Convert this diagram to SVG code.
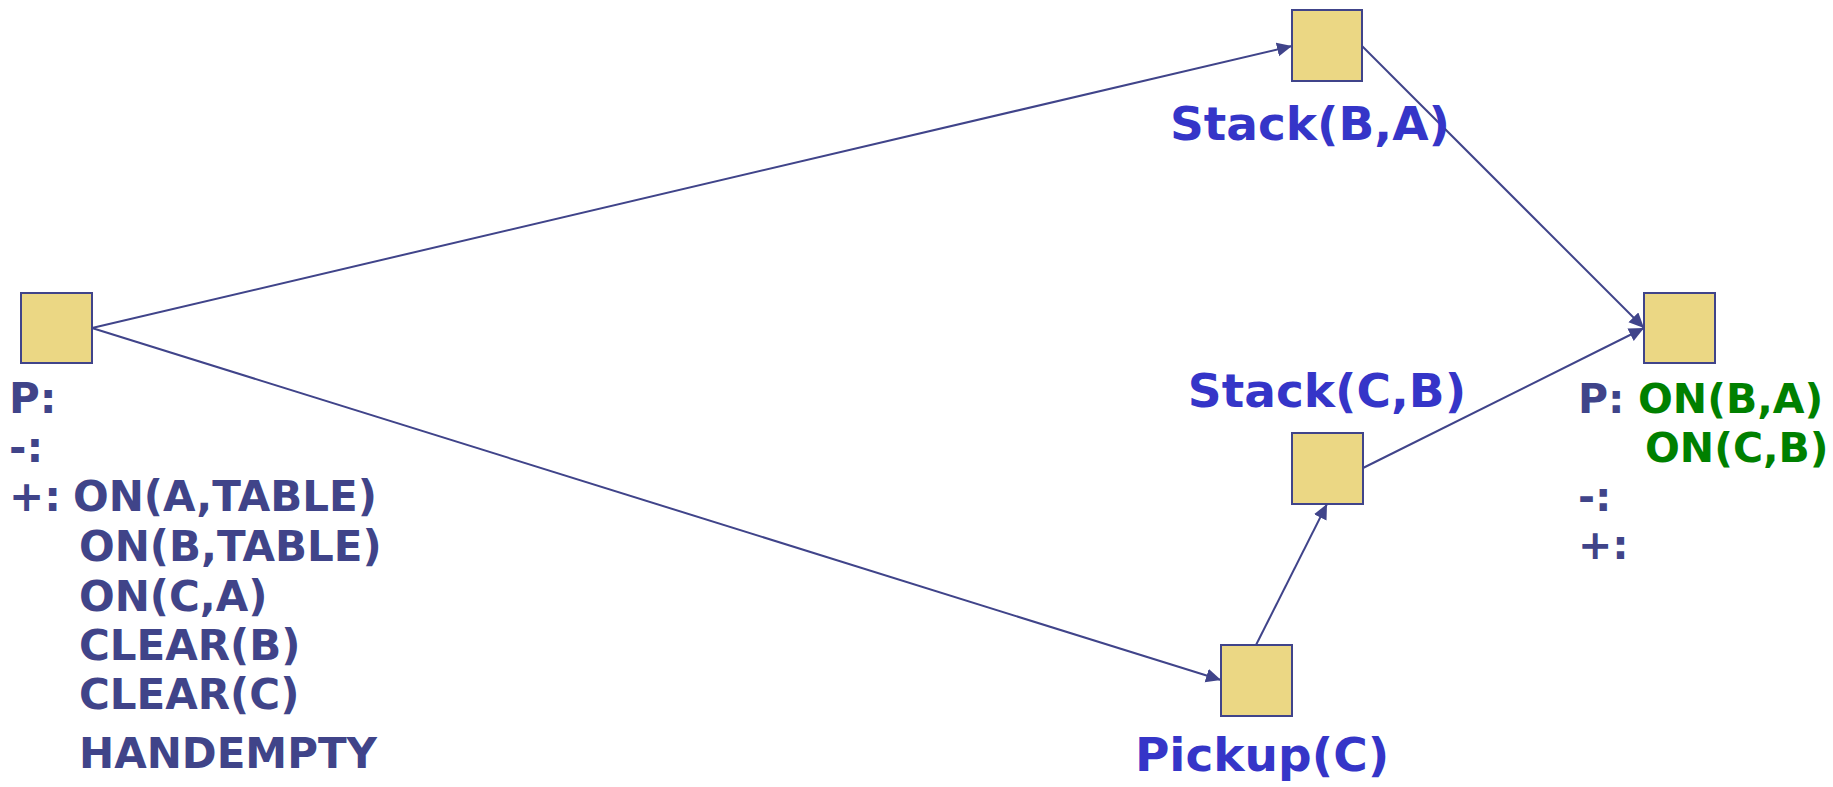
<svg xmlns="http://www.w3.org/2000/svg" width="1833" height="787" viewBox="0 0 1833 787">
<style>
.node rect{fill:#ebd784;stroke:#40448a;stroke-width:2}
.lbl{font-family:"DejaVu Sans",sans-serif;font-weight:bold;font-size:47px;fill:#3535c8;text-anchor:middle}
.cond{font-family:"DejaVu Sans",sans-serif;font-weight:bold;font-size:42px;fill:#404489}
.r{font-size:41px}
.green{fill:#008000}
.edges line{stroke:#40448a;stroke-width:2;marker-end:url(#arr)}
</style>
<defs>
<marker id="arr" markerUnits="userSpaceOnUse" markerWidth="17" markerHeight="15" refX="15" refY="7" orient="auto">
<path d="M0,0 L15,7 L0,14 z" fill="#40448a"/>
</marker>
</defs>
<rect width="1833" height="787" fill="#ffffff"/>
<g id="edges" class="edges">
<line x1="92" y1="328" x2="1292" y2="46"/>
<line x1="92" y1="328" x2="1221" y2="680"/>
<line x1="1362" y1="46" x2="1644" y2="328"/>
<line x1="1363" y1="468" x2="1644" y2="328"/>
<line x1="1256" y1="645" x2="1327" y2="504"/>
</g>
<g id="start" class="node">
<rect x="21" y="293" width="71" height="70"/>
<text class="cond" x="9" y="413">P:</text>
<text class="cond" x="9" y="462">-:</text>
<text class="cond" x="9" y="511">+:</text>
<text class="cond" x="73" y="511">ON(A,TABLE)</text>
<text class="cond" x="79" y="561">ON(B,TABLE)</text>
<text class="cond" x="79" y="611">ON(C,A)</text>
<text class="cond" x="79" y="660">CLEAR(B)</text>
<text class="cond" x="79" y="709">CLEAR(C)</text>
<text class="cond" x="79" y="768">HANDEMPTY</text>
</g>
<g id="stackBA" class="node">
<rect x="1292" y="10" width="70" height="71"/>
<text class="lbl" x="1310" y="140">Stack(B,A)</text>
</g>
<g id="stackCB" class="node">
<rect x="1292" y="433" width="71" height="71"/>
<text class="lbl" x="1327" y="407">Stack(C,B)</text>
</g>
<g id="pickupC" class="node">
<rect x="1221" y="645" width="71" height="71"/>
<text class="lbl" x="1262" y="771">Pickup(C)</text>
</g>
<g id="finish" class="node">
<rect x="1644" y="293" width="71" height="70"/>
<text class="cond r" x="1578" y="413">P:</text>
<text class="cond r green" x="1638" y="413">ON(B,A)</text>
<text class="cond r green" x="1645" y="462">ON(C,B)</text>
<text class="cond r" x="1578" y="511">-:</text>
<text class="cond r" x="1578" y="559">+:</text>
</g>
</svg>
